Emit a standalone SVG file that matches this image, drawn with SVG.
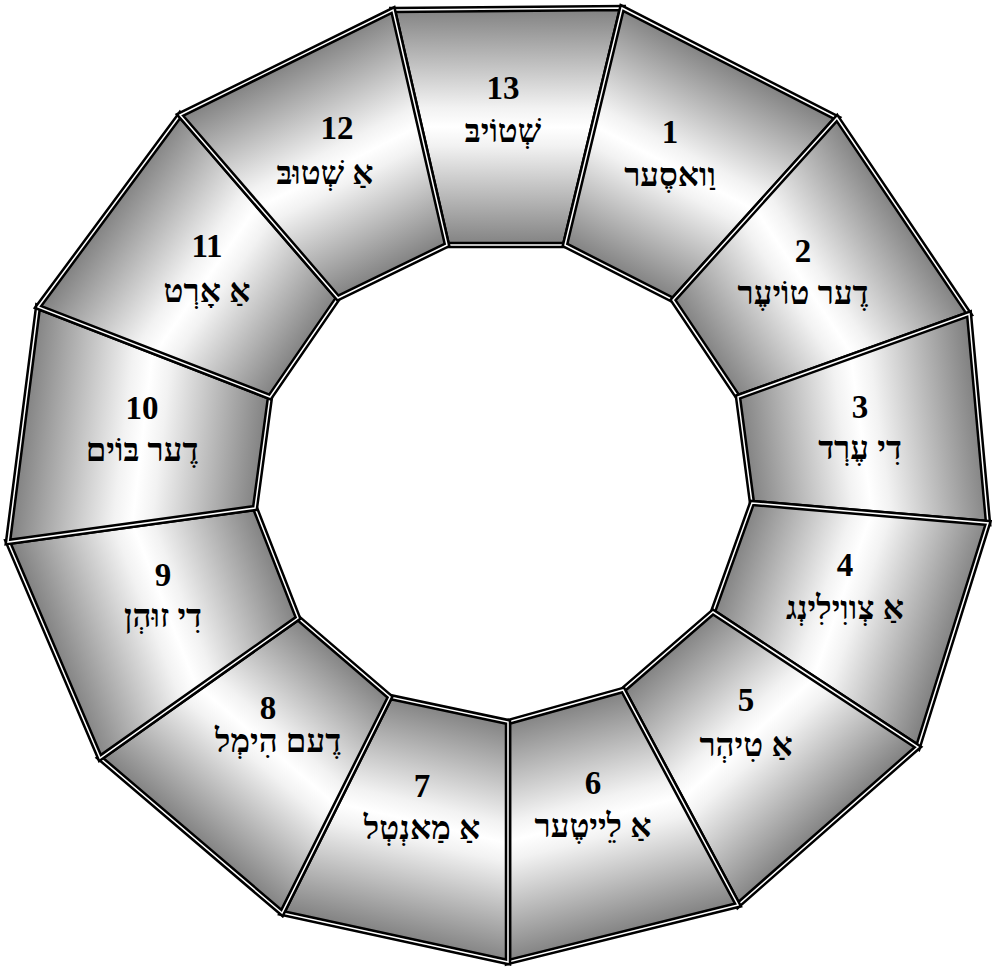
<svg xmlns="http://www.w3.org/2000/svg" xmlns:xlink="http://www.w3.org/1999/xlink" width="992" height="968" viewBox="0 0 992 968">
<style>
.seg{stroke:#000;stroke-width:6.5;stroke-linejoin:miter}
.hl{fill:none;stroke:#fff;stroke-width:1.5;stroke-linejoin:miter}
text{font-family:"Liberation Serif","DejaVu Serif","DejaVu Sans",serif;font-weight:bold;font-size:33px;fill:#000;text-anchor:middle}
</style>
<defs>
<linearGradient id="base">
<stop offset="0" stop-color="#828282"/>
<stop offset="0.42" stop-color="#f2f2f2"/>
<stop offset="0.5" stop-color="#ffffff"/>
<stop offset="0.58" stop-color="#f2f2f2"/>
<stop offset="1" stop-color="#828282"/>
</linearGradient>
<linearGradient id="g13" xlink:href="#base" gradientUnits="userSpaceOnUse" x1="507" y1="9" x2="506" y2="245"/>
<linearGradient id="g1" xlink:href="#base" gradientUnits="userSpaceOnUse" x1="729" y1="63" x2="619" y2="272"/>
<linearGradient id="g2" xlink:href="#base" gradientUnits="userSpaceOnUse" x1="903" y1="216" x2="705" y2="348"/>
<linearGradient id="g3" xlink:href="#base" gradientUnits="userSpaceOnUse" x1="978" y1="418" x2="745" y2="450"/>
<linearGradient id="g4" xlink:href="#base" gradientUnits="userSpaceOnUse" x1="953" y1="635" x2="732" y2="557"/>
<linearGradient id="g5" xlink:href="#base" gradientUnits="userSpaceOnUse" x1="828" y1="826" x2="668" y2="651"/>
<linearGradient id="g6" xlink:href="#base" gradientUnits="userSpaceOnUse" x1="623" y1="933" x2="565" y2="706"/>
<linearGradient id="g7" xlink:href="#base" gradientUnits="userSpaceOnUse" x1="395" y1="937" x2="449" y2="709"/>
<linearGradient id="g8" xlink:href="#base" gradientUnits="userSpaceOnUse" x1="191" y1="835" x2="344" y2="657"/>
<linearGradient id="g9" xlink:href="#base" gradientUnits="userSpaceOnUse" x1="54" y1="650" x2="276" y2="563"/>
<linearGradient id="g10" xlink:href="#base" gradientUnits="userSpaceOnUse" x1="23" y1="424" x2="262" y2="452"/>
<linearGradient id="g11" xlink:href="#base" gradientUnits="userSpaceOnUse" x1="109" y1="211" x2="304" y2="347"/>
<linearGradient id="g12" xlink:href="#base" gradientUnits="userSpaceOnUse" x1="286" y1="62" x2="392" y2="271"/>
</defs>
<rect width="992" height="968" fill="#fff"/>
<g id="seg13"><polygon class="seg" fill="url(#g13)" points="393,10 622,8 565,245 447,245"/><polygon class="hl" points="393,10 622,8 565,245 447,245"/><text x="503" y="99">13</text><text x="503" y="142">שְׁטוֹיבּ</text></g>
<g id="seg1"><polygon class="seg" fill="url(#g1)" points="622,8 837,118 673,300 565,245"/><polygon class="hl" points="622,8 837,118 673,300 565,245"/><text x="670" y="143">1</text><text x="670" y="186">וַואסֶער</text></g>
<g id="seg2"><polygon class="seg" fill="url(#g2)" points="837,118 969,314 738,397 673,300"/><polygon class="hl" points="837,118 969,314 738,397 673,300"/><text x="803" y="262">2</text><text x="803" y="304">דֶער טוֹיעֶר</text></g>
<g id="seg3"><polygon class="seg" fill="url(#g3)" points="969,314 988,523 752,503 738,397"/><polygon class="hl" points="969,314 988,523 752,503 738,397"/><text x="860" y="418">3</text><text x="860" y="459">דִי עֶרְד</text></g>
<g id="seg4"><polygon class="seg" fill="url(#g4)" points="988,523 918,747 713,612 752,503"/><polygon class="hl" points="988,523 918,747 713,612 752,503"/><text x="845" y="576">4</text><text x="845" y="619">אַ צְווִילִינְג</text></g>
<g id="seg5"><polygon class="seg" fill="url(#g5)" points="918,747 738,905 623,690 713,612"/><polygon class="hl" points="918,747 738,905 623,690 713,612"/><text x="746" y="711">5</text><text x="746" y="756">אַ טִיהְר</text></g>
<g id="seg6"><polygon class="seg" fill="url(#g6)" points="738,905 508,962 508,722 623,690"/><polygon class="hl" points="738,905 508,962 508,722 623,690"/><text x="593" y="794">6</text><text x="593" y="837">אַ לֵייטֶער</text></g>
<g id="seg7"><polygon class="seg" fill="url(#g7)" points="508,962 282,913 390,697 508,722"/><polygon class="hl" points="508,962 282,913 390,697 508,722"/><text x="422" y="797">7</text><text x="422" y="839">אַ מַאנְטְל</text></g>
<g id="seg8"><polygon class="seg" fill="url(#g8)" points="282,913 100,758 298,618 390,697"/><polygon class="hl" points="282,913 100,758 298,618 390,697"/><text x="268" y="719">8</text><text x="278" y="752">דֶעם הִימְל</text></g>
<g id="seg9"><polygon class="seg" fill="url(#g9)" points="100,758 8,542 255,508 298,618"/><polygon class="hl" points="100,758 8,542 255,508 298,618"/><text x="163" y="586">9</text><text x="163" y="627">דִי זוּהְן</text></g>
<g id="seg10"><polygon class="seg" fill="url(#g10)" points="8,542 38,307 270,397 255,508"/><polygon class="hl" points="8,542 38,307 270,397 255,508"/><text x="142" y="419">10</text><text x="142" y="461">דֶער בּוֹים</text></g>
<g id="seg11"><polygon class="seg" fill="url(#g11)" points="38,307 180,115 338,298 270,397"/><polygon class="hl" points="38,307 180,115 338,298 270,397"/><text x="207" y="257">11</text><text x="207" y="302">אַ אָרְט</text></g>
<g id="seg12"><polygon class="seg" fill="url(#g12)" points="180,115 393,10 447,245 338,298"/><polygon class="hl" points="180,115 393,10 447,245 338,298"/><text x="337" y="139">12</text><text x="325" y="184">אַ שְׁטוּבּ</text></g>
<g id="connectors"/>
</svg>
